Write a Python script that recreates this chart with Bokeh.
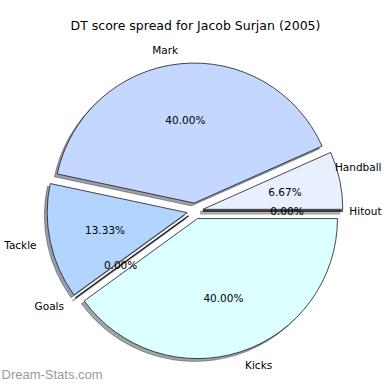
import math
from bokeh.plotting import figure
from bokeh.models import Range1d, ColumnDataSource
from bokeh.core.properties import value
from bokeh.embed import file_html
from bokeh.resources import INLINE

# ---- data ----
title_text = "DT score spread for Jacob Surjan (2005)"
categories = ["Hitout", "Handball", "Mark", "Tackle", "Goals", "Kicks"]
counts = [0, 1, 6, 2, 0, 6]
colors = ["#e8f0ff", "#e8f0ff", "#c4d8ff", "#b3d4ff", "#b3d4ff", "#dcffff"]
watermark = "Dream-Stats.com"

# ---- layout ----
W = H = 382
R_PX = 140.0            # pie radius in pixels
CX, CY = 194.5, 210.5   # pie centre in canvas pixels
EXPLODE = 0.057
SHADOW = 0.02
x0 = -CX / R_PX
x1 = (W - CX) / R_PX
y1 = CY / R_PX
y0 = -(H - CY) / R_PX


def cx(px):
    return (px - CX) / R_PX


def cy(py):
    return (CY - py) / R_PX


p = figure(width=W, height=H, output_backend="svg", toolbar_location=None,
           x_range=Range1d(x0, x1), y_range=Range1d(y0, y1),
           min_border=0, outline_line_color=None)
p.axis.visible = False
p.grid.visible = False
p.background_fill_color = "white"
p.border_fill_color = "white"

total = float(sum(counts))
angles = []
a = 0.0
for c in counts:
    da = 2 * math.pi * c / total
    angles.append((a, a + da))
    a += da


def shade(hexc):
    r = int(hexc[1:3], 16); g = int(hexc[3:5], 16); b = int(hexc[5:7], 16)
    return "#%02x%02x%02x" % (int(r * 0.3), int(g * 0.3), int(b * 0.3))


wx, wy, ws, we, wc, sc = [], [], [], [], [], []
zx0, zy0, zx1, zy1, zsc = [], [], [], [], []
lab_x, lab_y, lab_t, lab_al = [], [], [], []
pct_x, pct_y, pct_t = [], [], []
for cat, c, col, (s, e) in zip(categories, counts, colors, angles):
    mid = (s + e) / 2
    ox, oy = EXPLODE * math.cos(mid), EXPLODE * math.sin(mid)
    if c > 0:
        wx.append(ox); wy.append(oy); ws.append(s); we.append(e)
        wc.append(col); sc.append(shade(col))
    else:
        zx0.append(ox); zy0.append(oy)
        zx1.append(ox + math.cos(mid)); zy1.append(oy + math.sin(mid))
        zsc.append(shade(col))
    lx = ox + 1.1 * math.cos(mid)
    ly = oy + 1.1 * math.sin(mid)
    lab_x.append(lx); lab_y.append(ly); lab_t.append(cat)
    lab_al.append("left" if lx > 0 else "right")
    pct_x.append(ox + 0.6 * math.cos(mid)); pct_y.append(oy + 0.6 * math.sin(mid))
    pct_t.append("%.2f%%" % (100.0 * c / total))

# labels that would run past the right edge: right-align them inside the canvas
fit_right = {"Handball": 166, "Hitout": None}
for i, t in enumerate(lab_t):
    if t in fit_right:
        lab_x[i] = cx(W - 1)
        lab_al[i] = "right"
        if fit_right[t] is not None:
            lab_y[i] = cy(fit_right[t])

# shadows
p.wedge(x=[v - SHADOW for v in wx], y=[v - SHADOW for v in wy], radius=1.0,
        start_angle=ws, end_angle=we, fill_color=sc, fill_alpha=0.5,
        line_color=sc, line_alpha=0.5, line_width=1)
p.segment(x0=[v - SHADOW for v in zx0], y0=[v - SHADOW for v in zy0],
          x1=[v - SHADOW for v in zx1], y1=[v - SHADOW for v in zy1],
          line_color=zsc, line_alpha=0.5, line_width=1.5)

# wedges
p.wedge(x=wx, y=wy, radius=1.0, start_angle=ws, end_angle=we,
        fill_color=wc, line_color="#1a1a1a", line_width=0.8)
p.segment(x0=zx0, y0=zy0, x1=zx1, y1=zy1, line_color="#1a1a1a", line_width=1.3)

font = value("DejaVu Sans")
src = ColumnDataSource(dict(x=lab_x, y=lab_y, t=lab_t, al=lab_al))
p.text(x="x", y="y", text="t", text_align="al",
       text_baseline="middle", text_font=font, text_font_size="10.5px",
       text_color="#000000", source=src)
p.text(x=pct_x, y=pct_y, text=pct_t, text_align="center", text_baseline="middle",
       text_font=font, text_font_size="10.5px", text_color="#000000")

p.text(x=[cx(195)], y=[cy(25)], text=[title_text], text_align="center",
       text_baseline="middle", text_font=font, text_font_size="12.5px",
       text_color="#000000")
p.text(x=[cx(1)], y=[cy(H - 1)], text=[watermark], text_align="left",
       text_baseline="bottom", text_font=value("Liberation Sans"),
       text_font_size="13px", text_color="#9a9a9a")

open("out.html", "w").write(file_html(p, INLINE))
